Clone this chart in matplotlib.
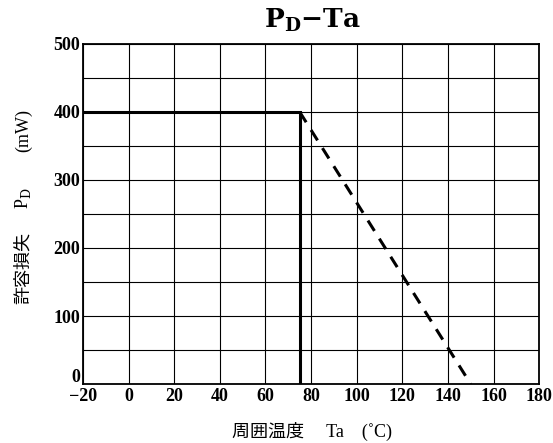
import matplotlib; matplotlib.use('Agg')
import matplotlib.pyplot as plt
import matplotlib.transforms as mtransforms

# allowable power dissipation vs ambient temperature
ta_rated = [-20, 75, 75]
pd_rated = [400, 400, 0]
ta_derate = [75, 150]
pd_derate = [400, 0]
x_ticks = [-20, 0, 20, 40, 60, 80, 100, 120, 140, 160, 180]
y_ticks = [0, 100, 200, 300, 400, 500]
y_grid = [50, 150, 250, 350, 450]

serif = ['Liberation Serif', 'DejaVu Serif']
mixed = ['Liberation Serif', 'Noto Sans CJK JP', 'DejaVu Sans']
cjk = ['Noto Sans CJK JP', 'DejaVu Sans']

fig = plt.figure(figsize=(5.53, 4.43), dpi=100)
ax = fig.add_axes([0.150, 0.133, 0.825, 0.768])

ax.plot(ta_rated, pd_rated, color='black', lw=2.2, solid_joinstyle='miter')
ax.plot(ta_derate, pd_derate, color='black', lw=2.2, dashes=(4, 3))

ax.set_xlim(-20, 180); ax.set_ylim(0, 500)
ax.set_xticks(x_ticks)
ax.set_xticklabels([f"\u2212{abs(v)}" if v < 0 else str(v) for v in x_ticks])
ax.set_yticks(y_ticks)
ax.set_yticks(y_grid, minor=True)
ax.grid(True, which='both', color='black', lw=0.8)
ax.tick_params(which='both', length=0)
ax.tick_params(axis='y', pad=2)
ax.tick_params(axis='x', pad=3)
for lab in ax.get_xticklabels() + ax.get_yticklabels():
    lab.set_family(serif); lab.set_fontweight('bold'); lab.set_fontsize(13)
# lift the "0" so it clears the -20 below it
zero = ax.get_yticklabels()[0]
zero.set_transform(zero.get_transform() + mtransforms.ScaledTranslation(0, 6/72, fig.dpi_scale_trans))
for s in ax.spines.values():
    s.set_linewidth(1.3)

fig.text(0.565, 0.953, r"$\mathbf{P_D}$$\mathbf{-Ta}$", ha='center', va='center',
         fontsize=19, family=serif, math_fontfamily='dejavuserif')
fig.text(0.565, 0.025, "周囲温度　 Ta　(˚C)", ha='center', va='center',
         fontsize=13, family=mixed)

# y label in pieces: mathtext would not fall back to the CJK font
ylx = 0.042
fig.text(ylx, 1 - 268/443, "許容損失", ha='center', va='center', rotation=90,
         fontsize=13, family=cjk)
fig.text(ylx, 1 - 198/443, r"P$_\mathrm{D}$", ha='center', va='center', rotation=90,
         fontsize=13, family=serif, math_fontfamily='dejavuserif')
fig.text(ylx, 1 - 130/443, "(mW)", ha='center', va='center', rotation=90,
         fontsize=13, family=serif)

plt.savefig('out.png', dpi=100)
